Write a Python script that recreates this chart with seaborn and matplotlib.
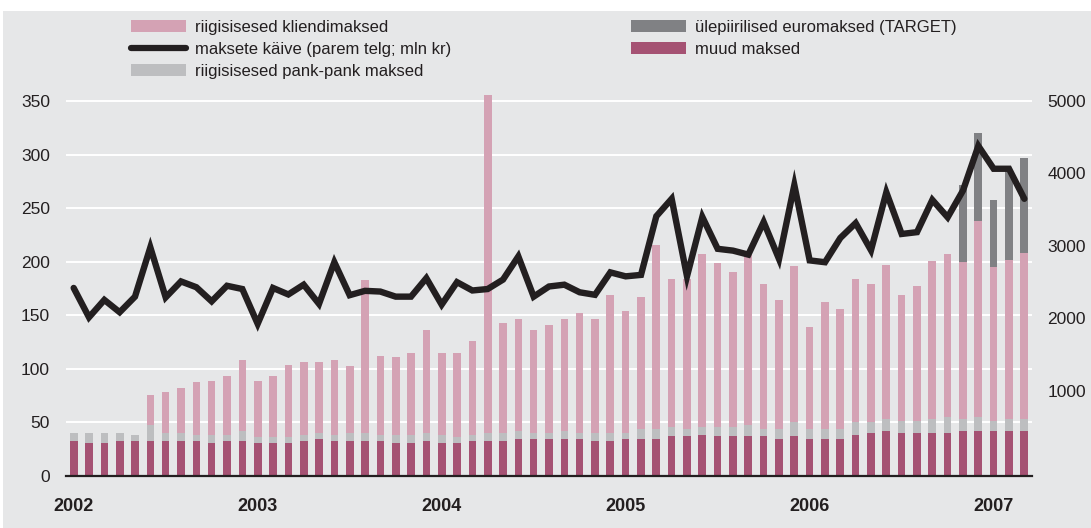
import numpy as np
import pandas as pd
import matplotlib
matplotlib.use("Agg")
import matplotlib.pyplot as plt
import seaborn as sns
from matplotlib.patches import Patch, Rectangle
from matplotlib.lines import Line2D
from matplotlib import font_manager

# ---------------- data (monthly, Jan 2002 .. Mar 2007) ----------------
year_labels = ["2002", "2003", "2004", "2005", "2006", "2007"]

muud = [33, 31, 31, 33, 33, 33, 33, 33, 33, 31,
        33, 33, 31, 31, 31, 33, 35, 33, 33, 33,
        33, 31, 31, 33, 31, 31, 33, 33, 33, 35,
        35, 35, 35, 35, 33, 33, 35, 35, 35, 37,
        37, 38, 37, 37, 37, 37, 35, 37, 35, 35,
        35, 38, 40, 42, 40, 40, 40, 40, 42, 42,
        42, 42, 42]

pank = [7, 9, 9, 7, 5.5, 15, 7, 7, 5.5, 7.5,
        5.5, 9, 5.5, 5.5, 5.5, 5.5, 5, 5.5, 7, 7,
        5.5, 7.5, 7.5, 7, 7.5, 5.5, 5.5, 7, 7, 7,
        5, 5, 7, 5, 7, 7, 5, 9, 9, 9,
        7, 8, 9, 9, 11, 7, 9, 13, 9, 9,
        9, 12, 10, 11, 11.5, 11.5, 13, 15, 11, 13,
        9.5, 11, 11]

klient = [0, 0, 0, 0, 0, 28, 38, 42, 49, 50.5,
          54.5, 66, 52.5, 56.5, 67.5, 67.5, 66, 69.5, 62.5, 143,
          73.5, 72.5, 76.5, 96, 76.5, 78.5, 87.5, 316, 103, 105,
          96, 101, 105, 112, 107, 129, 114, 123, 172, 138,
          140, 161, 153, 144, 158, 135, 120, 146, 95, 118,
          112, 134, 129, 144, 117.5, 125.5, 148, 152, 147, 183,
          143.5, 149, 155]

target = [0] * 58 + [72, 82, 63, 83, 89]

kaive = [2420, 2015, 2255, 2085, 2300, 2980, 2290, 2510, 2430, 2235,
         2450, 2405, 1925, 2420, 2330, 2465, 2200, 2775, 2320, 2380,
         2370, 2300, 2300, 2555, 2190, 2500, 2385, 2405, 2535, 2855,
         2300, 2440, 2465, 2360, 2325, 2635, 2580, 2600, 3410, 3650,
         2580, 3400, 2960, 2935, 2880, 3330, 2820, 3840, 2800, 2775,
         3110, 3315, 2940, 3740, 3165, 3190, 3635, 3395, 3765, 4380,
         4065, 4065, 3650]

left_ticks = [0, 50, 100, 150, 200, 250, 300, 350]
right_ticks = [1000, 2000, 3000, 4000, 5000]

lbl_klient = "riigisisesed kliendimaksed"
lbl_kaive = "maksete käive (parem telg; mln kr)"
lbl_pank = "riigisisesed pank-pank maksed"
lbl_target = "ülepiirilised euromaksed (TARGET)"
lbl_muud = "muud maksed"

# ---------------- style ----------------
C_BG = "#e6e7e8"
C_KLIENT = "#d4a2b4"
C_PANK = "#bdbec0"
C_TARGET = "#808184"
C_MUUD = "#a55273"
C_LINE = "#231f20"

sns.set_theme(style="white")
names = {f.name for f in font_manager.fontManager.ttflist}
base = "Liberation Sans" if "Liberation Sans" in names else "DejaVu Sans"
narrow = "Liberation Sans Narrow" if "Liberation Sans Narrow" in names else base
plt.rcParams["font.family"] = [base, "DejaVu Sans"]

W, H = 1091, 528
fig = plt.figure(figsize=(W / 100, H / 100), dpi=100)
fig.patch.set_facecolor("white")
fig.patches.append(Rectangle((3 / W, 0), 1, (H - 11) / H, transform=fig.transFigure,
                             facecolor=C_BG, edgecolor="none", zorder=-10))

ax_left, ax_right = 66, 1032
ax_bottom, ax_top = 476, 90.3
ax = fig.add_axes([ax_left / W, (H - ax_bottom) / H, (ax_right - ax_left) / W,
                   (ax_bottom - ax_top) / H])
ax.set_facecolor("none")

n = len(muud)
idx = np.arange(n)
df = pd.DataFrame({"m": idx, "muud": muud, "pank": pank, "klient": klient,
                   "target": target, "kaive": kaive})
df["t_muud"] = df["muud"]
df["t_pank"] = df["t_muud"] + df["pank"]
df["t_klient"] = df["t_pank"] + df["klient"]
df["t_target"] = df["t_klient"] + df["target"]

for col, c in [("t_target", C_TARGET), ("t_klient", C_KLIENT),
               ("t_pank", C_PANK), ("t_muud", C_MUUD)]:
    sns.barplot(data=df, x="m", y=col, color=c, saturation=1, width=0.5,
                errorbar=None, ax=ax, zorder=2, linewidth=0)

ax.set_ylim(0, 360)
ax.set_yticks(left_ticks)
ax.set_yticklabels([str(v) for v in left_ticks], fontsize=12.5, color="#231f20")
ax.yaxis.grid(True, color="white", linewidth=1.4)
ax.xaxis.grid(False)
ax.set_axisbelow(True)
for s in ["top", "left", "right"]:
    ax.spines[s].set_visible(False)
ax.spines["bottom"].set_color("#231f20")
ax.spines["bottom"].set_linewidth(1.6)
ax.set_xticks([0, 12, 24, 36, 48, 60])
ax.set_xticklabels(year_labels, fontsize=13, fontweight="bold", color="#231f20")
ax.tick_params(axis="x", length=0, pad=16)
ax.tick_params(axis="y", length=0, pad=11.5)
ax.set_xlabel("")
ax.set_ylabel("")

# right axis: 5000 aligns with 350, 1000 aligns with ~79.5 on left axis
ax2 = ax.twinx()
slope = 4000 / (350 - 79.5)
ax2.set_ylim(5000 + (0 - 350) * slope, 5000 + (360 - 350) * slope)
sns.lineplot(data=df, x="m", y="kaive", color=C_LINE, linewidth=4.6, ax=ax2,
             solid_joinstyle="miter", zorder=5)
ax2.set_yticks(right_ticks)
ax2.set_yticklabels([str(v) for v in right_ticks], fontsize=12.5, color="#231f20")
ax2.tick_params(axis="y", length=0, pad=11)
for s in ["top", "left", "right", "bottom"]:
    ax2.spines[s].set_visible(False)
ax2.set_ylabel("")
ax2.set_xlabel("")
ax.set_xlim(-0.5, n - 0.5)

# legends
lprops = dict(family=[narrow, "DejaVu Sans"], size=12 if narrow == base else 13)
h1 = [Patch(facecolor=C_KLIENT, edgecolor="none"),
      Line2D([0], [0], color=C_LINE, linewidth=4.5),
      Patch(facecolor=C_PANK, edgecolor="none")]
h2 = [Patch(facecolor=C_TARGET, edgecolor="none"),
      Patch(facecolor=C_MUUD, edgecolor="none")]
common = dict(loc="upper left", frameon=False, prop=lprops, handlelength=3.3,
              handleheight=0.75, handletextpad=0.55, labelspacing=0.42,
              borderpad=0, borderaxespad=0)
leg1 = fig.legend(h1, [lbl_klient, lbl_kaive, lbl_pank],
                  bbox_to_anchor=(131 / W, 1 - 20 / H), **common)
leg2 = fig.legend(h2, [lbl_target, lbl_muud],
                  bbox_to_anchor=(631 / W, 1 - 20 / H), **common)
for lg in (leg1, leg2):
    for t in lg.get_texts():
        t.set_color("#231f20")

fig.savefig("out.png", dpi=100, facecolor=fig.get_facecolor())
